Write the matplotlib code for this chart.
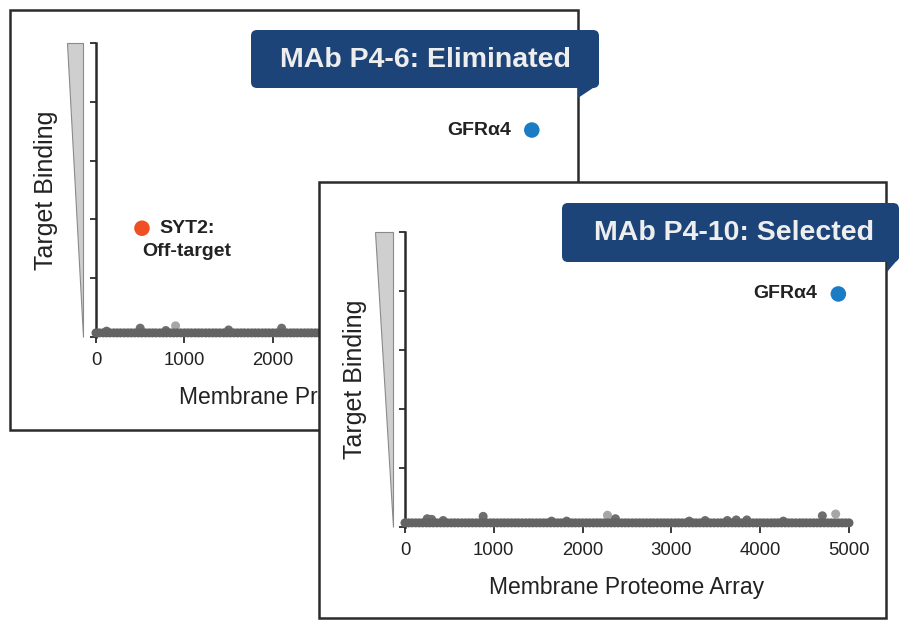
import matplotlib
matplotlib.use("Agg")
import matplotlib.pyplot as plt
from matplotlib.patches import Rectangle, Polygon, FancyBboxPatch

plt.rcParams['font.family'] = ['Liberation Sans', 'DejaVu Sans']

# ---------------- data ----------------
titles = ["MAb P4-6: Eliminated", "MAb P4-10: Selected"]
x_ticks = [0, 1000, 2000, 3000, 4000, 5000]
x_tick_labels = ["0", "1000", "2000", "3000", "4000", "5000"]
y_ticks = [0, 1, 2, 3, 4, 5]
x_label = "Membrane Proteome Array"
y_label = "Target Binding"

# background (non-binding) proteins, panel 1
p1_bg_x = [0, 38, 81, 120, 158, 201, 240, 279, 320, 361, 399, 440, 482, 519, 560,
           601, 640, 678, 721, 760, 799, 841, 880, 918, 960, 1002, 1040, 1079, 1121,
           1160, 1198, 1241, 1280, 1321, 1359, 1400, 1442, 1480, 1519, 1560, 1601,
           1640, 1678, 1720, 1761, 1800, 1839, 1881, 1920, 1958, 2000, 2041, 2080,
           2119, 2160, 2202, 2240, 2278, 2320, 2361, 2400, 2439, 2481, 2520, 2559,
           2600, 2641, 2680, 2718, 2760, 2802, 2840, 2879, 2921, 2960, 2998, 3040,
           3081, 3120, 3159, 3200, 3241, 3280, 3318, 3360, 3402, 3440, 3479, 3521,
           3560, 3599, 3640, 3681, 3720, 3758, 3800, 3842, 3880, 3919, 3960, 4001,
           4040, 4078, 4120, 4161, 4200, 4239, 4281, 4320, 4358, 4400, 4441, 4480,
           4519, 4560, 4602, 4640, 4678, 4720, 4761, 4800, 4839, 4881, 4920, 4959,
           5000]
p1_bg_y = [0.07] * len(p1_bg_x)
# slightly raised background proteins, panel 1
p1_raised_x = [120, 500, 790, 900, 1500, 2100, 2650]
p1_raised_y = [0.10, 0.15, 0.11, 0.19, 0.12, 0.15, 0.11]
p1_raised_light = [False, False, False, True, False, False, False]
# labelled hits, panel 1
p1_hits_x = [520, 4930]
p1_hits_y = [1.85, 3.52]
p1_hits_label = ["SYT2:\nOff-target", "GFRα4"]
p1_hits_color = ["#f04e23", "#1a7cc4"]

# background proteins, panel 2
p2_bg_x = [0, 41, 79, 121, 160, 199, 242, 280, 318, 360, 401, 440, 479, 521, 560,
           598, 640, 681, 720, 759, 801, 840, 879, 920, 962, 1000, 1039, 1081, 1120,
           1159, 1200, 1241, 1279, 1320, 1361, 1400, 1438, 1480, 1521, 1560, 1599,
           1640, 1681, 1720, 1758, 1800, 1842, 1880, 1919, 1960, 2001, 2040, 2079,
           2121, 2160, 2198, 2240, 2281, 2320, 2359, 2400, 2442, 2480, 2518, 2560,
           2601, 2640, 2679, 2721, 2760, 2798, 2840, 2881, 2920, 2959, 3000, 3042,
           3080, 3119, 3160, 3201, 3240, 3278, 3320, 3361, 3400, 3439, 3480, 3522,
           3560, 3598, 3640, 3681, 3720, 3759, 3801, 3840, 3878, 3920, 3961, 4000,
           4039, 4080, 4122, 4160, 4199, 4240, 4281, 4320, 4358, 4400, 4442, 4480,
           4519, 4560, 4601, 4640, 4678, 4720, 4762, 4800, 4839, 4880, 4921, 4960,
           5000]
p2_bg_y = [0.07] * len(p2_bg_x)
p2_raised_x = [250, 300, 430, 880, 1650, 1820, 2280, 2370, 3200, 3380, 3630, 3730,
               3850, 4260, 4700, 4850]
p2_raised_y = [0.14, 0.13, 0.11, 0.18, 0.10, 0.10, 0.20, 0.14, 0.10, 0.11, 0.11,
               0.12, 0.12, 0.10, 0.19, 0.22]
p2_raised_light = [False, False, False, False, False, False, True, False, False,
                   False, False, False, False, False, False, True]
p2_hits_x = [4880]
p2_hits_y = [3.95]
p2_hits_label = ["GFRα4"]
p2_hits_color = ["#1a7cc4"]

# ---------------- layout helpers ----------------
W, H = 920, 632
fig = plt.figure(figsize=(W / 100, H / 100), dpi=100)
fig.patch.set_facecolor("white")


def layer(z):
    a = fig.add_axes([0, 0, 1, 1])
    a.set_xlim(0, W)
    a.set_ylim(H, 0)
    a.axis("off")
    a.patch.set_visible(False)
    a.set_zorder(z)
    return a


def px_axes(left, top, width, height, z):
    a = fig.add_axes([left / W, 1 - (top + height) / H, width / W, height / H])
    a.set_zorder(z)
    a.patch.set_visible(False)
    return a


FRAME_C = "#2b2b2b"
BOX_C = "#1c4479"
TXT_C = "#222222"


def panel(z, frame, ax_box, wedge, box, title, bg_x, bg_y, rx, ry, rlight,
          hx, hy, hlab, hcol, label_specs, title_dx=0, visible_right=None):
    bg = layer(z)
    fx0, fy0, fx1, fy1 = frame
    bg.add_patch(Rectangle((fx0, fy0), fx1 - fx0, fy1 - fy0, facecolor="white",
                           edgecolor=FRAME_C, linewidth=1.8))
    bg.add_patch(Polygon(wedge, closed=True, facecolor="#cfcfcf",
                         edgecolor="#8a8a8a", linewidth=0.8))

    ax = px_axes(*ax_box, z + 1)
    ax.set_xlim(0, 5000)
    ax.set_ylim(0, 5)
    for s in ["top", "right", "bottom"]:
        ax.spines[s].set_visible(False)
    ax.spines["left"].set_color(FRAME_C)
    ax.spines["left"].set_linewidth(1.8)
    ax.set_xticks(x_ticks)
    labels = list(x_tick_labels)
    if visible_right is not None:
        # labels lying fully under the front panel are never seen
        x0, _, w, _ = ax_box
        labels = [lab if x0 + t / 5000 * w < visible_right else ""
                  for t, lab in zip(x_ticks, labels)]
    ax.set_xticklabels(labels)
    ax.set_yticks(y_ticks)
    ax.set_yticklabels([])
    ax.tick_params(axis="x", direction="out", length=4, width=1.3, color=FRAME_C,
                   pad=7, labelsize=13.3, labelcolor=TXT_C)
    ax.tick_params(axis="y", direction="out", length=4, width=1.3, color=FRAME_C)

    ax.scatter(bg_x, bg_y, s=42, color="#636363", edgecolors="none", clip_on=False,
               zorder=3)
    for x, y, lt in zip(rx, ry, rlight):
        ax.scatter([x], [y], s=42, color="#a6a6a6" if lt else "#6e6e6e",
                   edgecolors="none", clip_on=False, zorder=2)
    ax.scatter(hx, hy, s=125, c=hcol, edgecolors="none", clip_on=False, zorder=4)
    for (lx, ly, ha), lab in zip(label_specs, hlab):
        ax.text(lx, ly, lab, ha=ha, va="center", fontsize=14, fontweight="bold",
                color=TXT_C, multialignment="center", linespacing=1.5)

    xl = ax.text(0.5, -0.205, x_label, transform=ax.transAxes, ha="center",
                 va="center", fontsize=16.5, color=TXT_C)
    if visible_right is not None:
        clip = Rectangle((fx0, fy0), visible_right - fx0, fy1 - fy0,
                         transform=bg.transData, visible=False)
        bg.add_patch(clip)
        xl.set_clip_path(clip)
    w_px = ax_box[2]
    ax.text(-50 / w_px, 0.5, y_label, transform=ax.transAxes, ha="center",
            va="center", rotation=90, fontsize=18, color=TXT_C)

    ov = layer(z + 2)
    bx0, by0, bx1, by1, tx, ty = box
    r = 6
    ov.add_patch(FancyBboxPatch((bx0 + r, by0 + r), bx1 - bx0 - 2 * r, by1 - by0 - 2 * r,
                                boxstyle=f"round,pad={r}", facecolor=BOX_C,
                                edgecolor="none"))
    ov.add_patch(Polygon([(tx, by1 - 12), (bx1, by1 - 12), (bx1, by1 - 4),
                          (tx, ty), (tx, by1 - 12)], closed=True,
                         facecolor=BOX_C, edgecolor="none"))
    ov.text((bx0 + bx1) / 2 + title_dx, (by0 + by1) / 2 + 1, title, ha="center",
            va="center", fontsize=20.5, fontweight="bold", color="#eeeeee")
    return ax


# panel 1 (back)
panel(0,
      frame=(10, 10, 578, 430),
      ax_box=(96, 43, 442, 294),
      wedge=[(67, 43), (83, 43), (83, 337)],
      box=(251, 30, 599, 88, 578, 98),
      title=titles[0],
      bg_x=p1_bg_x, bg_y=p1_bg_y, rx=p1_raised_x, ry=p1_raised_y,
      rlight=p1_raised_light, hx=p1_hits_x, hy=p1_hits_y, hlab=p1_hits_label,
      hcol=p1_hits_color,
      label_specs=[(1030, 1.65, "center"), (4700, 3.52, "right")],
      visible_right=319)

# panel 2 (front)
panel(10,
      frame=(319, 182, 886, 618),
      ax_box=(405, 232, 444, 295),
      wedge=[(375, 232), (393, 232), (393, 527)],
      box=(562, 203, 899, 262, 887, 272),
      title=titles[1],
      bg_x=p2_bg_x, bg_y=p2_bg_y, rx=p2_raised_x, ry=p2_raised_y,
      rlight=p2_raised_light, hx=p2_hits_x, hy=p2_hits_y, hlab=p2_hits_label,
      hcol=p2_hits_color,
      label_specs=[(4640, 3.95, "right")],
      title_dx=4)

fig.savefig("out.png", dpi=100)
